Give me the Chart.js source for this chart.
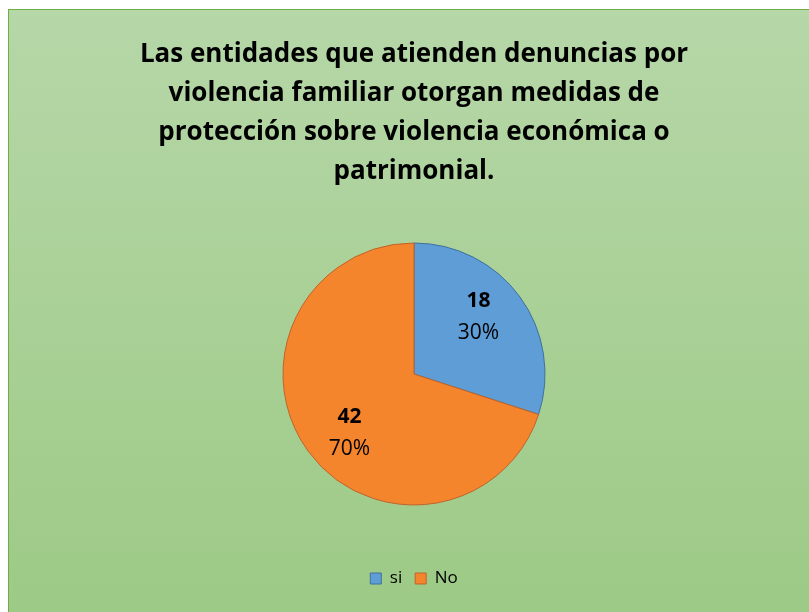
<!DOCTYPE html>
<html>
<head>
<meta charset="utf-8">
<script src="https://cdn.jsdelivr.net/npm/chart.js@4"></script>
<style>
  html, body { margin: 0; padding: 0; background: #ffffff; }
  #wrap { width: 809px; height: 612px; }
</style>
</head>
<body>
<div id="wrap"><canvas id="pie" width="809" height="612"></canvas></div>
<script>
/* ================= DATA ================= */
const categories = ["si", "No"];
const counts = [18, 42];
const percents = ["30%", "70%"];
const titleLines = [
    "Las entidades que atienden denuncias por",
    "violencia familiar otorgan medidas de",
    "protección sobre violencia económica o",
    "patrimonial."
];

const sliceColors = ["#5E9DD6", "#F5852C"];
const sliceBorders = ["#41719C", "#C0632A"];
const FONT = "'Open Sans', sans-serif";

/* ================= PLUGINS ================= */
const frameBg = {
    id: "frameBg",
    beforeDraw(chart) {
        const ctx = chart.ctx;
        ctx.save();
        ctx.fillStyle = "#ffffff";
        ctx.fillRect(0, 0, chart.width, chart.height);
        const g = ctx.createLinearGradient(0, 9, 0, chart.height);
        g.addColorStop(0, "#B6D7A8");
        g.addColorStop(1, "#9DCA86");
        ctx.fillStyle = g;
        ctx.fillRect(8, 9, chart.width, chart.height);
        ctx.strokeStyle = "#6FAD47";
        ctx.lineWidth = 1;
        ctx.strokeRect(8.5, 9.5, chart.width, chart.height);
        ctx.restore();
    }
};

// count (bold) over percentage, placed a bit before the slice middle like Excel's best fit
const sliceLabels = {
    id: "sliceLabels",
    afterDatasetsDraw(chart) {
        const ctx = chart.ctx;
        const meta = chart.getDatasetMeta(0);
        ctx.save();
        ctx.fillStyle = "#000000";
        ctx.textAlign = "center";
        ctx.textBaseline = "middle";
        meta.data.forEach((arc, i) => {
            const mid = (arc.startAngle + arc.endAngle) / 2 - 0.1;
            const d = arc.outerRadius * 0.66;
            const x = arc.x + Math.cos(mid) * d;
            const y = arc.y + Math.sin(mid) * d;
            ctx.font = "bold 21px " + FONT;
            ctx.fillText(String(counts[i]), x, y - 15);
            ctx.font = "21px " + FONT;
            ctx.fillText(percents[i], x, y + 17);
        });
        ctx.restore();
    }
};

/* ================= CHART ================= */
new Chart(document.getElementById("pie"), {
    type: "pie",
    data: {
        labels: categories,
        datasets: [{
            data: counts,
            backgroundColor: sliceColors,
            borderColor: sliceBorders,
            borderWidth: 1,
            radius: 131
        }]
    },
    options: {
        responsive: false,
        animation: false,
        layout: { padding: { top: 22, bottom: 15, left: 19, right: 0 } },
        plugins: {
            title: {
                display: true,
                text: titleLines,
                color: "#000000",
                font: { family: FONT, size: 26, weight: "bold", lineHeight: 1.5 },
                padding: { top: 13, bottom: 0 }
            },
            legend: {
                position: "bottom",
                labels: {
                    color: "#000000",
                    font: { family: FONT, size: 17 },
                    boxWidth: 11,
                    boxHeight: 11,
                    padding: 13
                }
            },
            tooltip: { enabled: false }
        }
    },
    plugins: [frameBg, sliceLabels]
});
</script>
</body>
</html>
